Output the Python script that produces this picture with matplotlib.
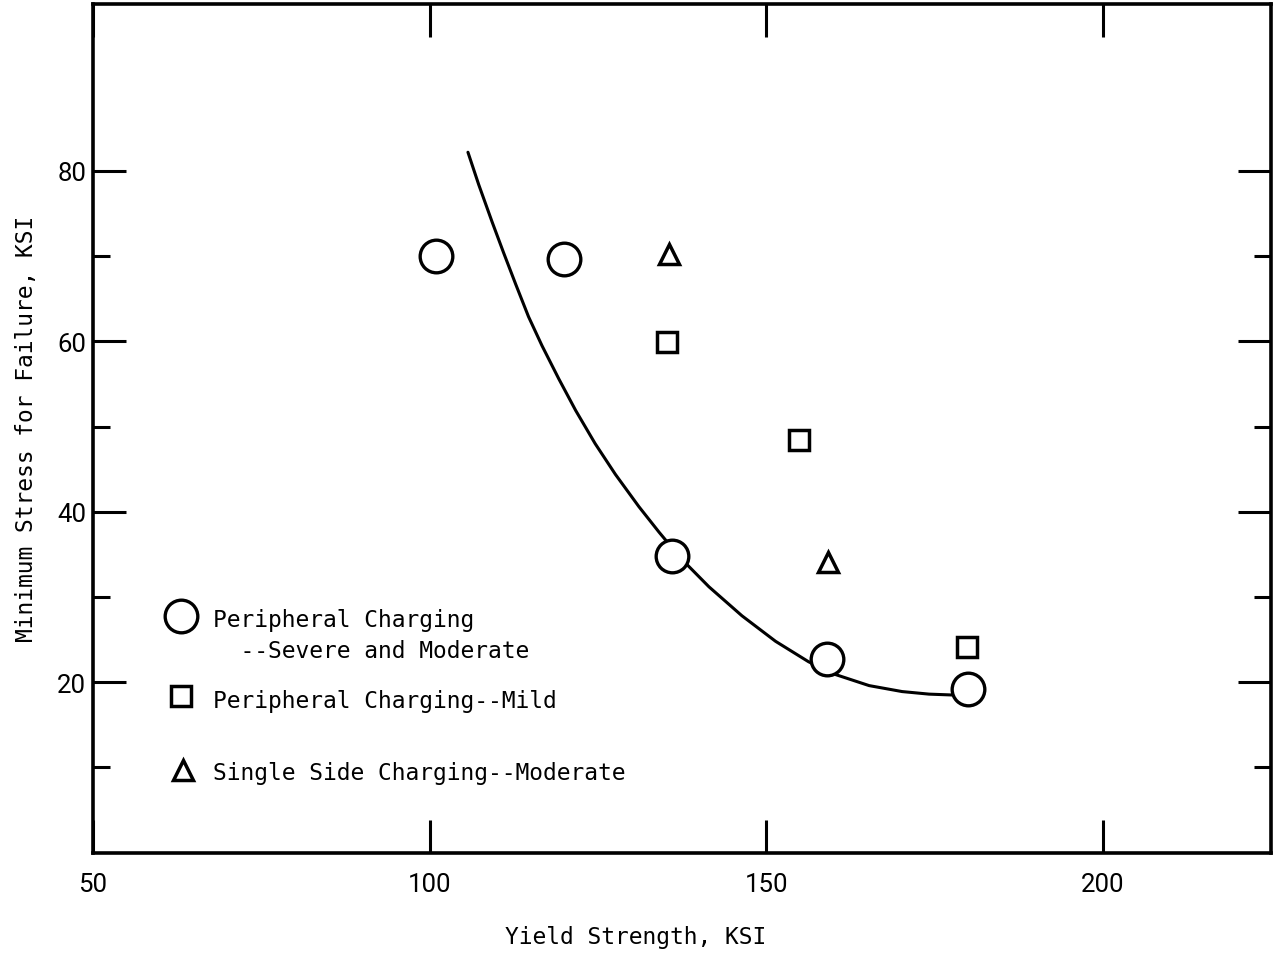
import matplotlib
matplotlib.use("Agg")
import matplotlib.pyplot as plt
from matplotlib import font_manager

# data
severe_x = [101, 120, 136, 159, 180]
severe_y = [70.0, 69.7, 34.8, 22.7, 19.2]

mild_x = [135.3, 154.9, 179.9]
mild_y = [59.9, 48.4, 24.1]

single_x = [135.6, 159.2]
single_y = [70.3, 34.1]

# hand-drawn fit curve
curve_x = [105.7, 107.3, 109.3, 111.0, 112.8, 114.7, 116.7, 119.2, 121.7, 124.6,
           127.6, 131.1, 134.1, 136.0, 138.0, 141.5, 146.4, 151.4, 156.3, 160.3,
           165.3, 170.2, 174.2, 177.6]
curve_y = [82.2, 78.4, 74.0, 70.4, 66.7, 62.9, 59.5, 55.6, 51.9, 48.0,
           44.4, 40.6, 37.6, 35.8, 34.0, 31.2, 27.8, 24.8, 22.4, 20.9,
           19.6, 18.9, 18.6, 18.5]

x_major = [50, 100, 150, 200]
y_major = [20, 40, 60, 80]
y_minor = [10, 30, 50, 70]

mono = "DejaVu Sans Mono"
names = {f.name for f in font_manager.fontManager.ttflist}
tick_font = "Liberation Sans Narrow" if "Liberation Sans Narrow" in names else "Roboto"

fig = plt.figure(figsize=(12.76, 9.54), dpi=100)
ax = fig.add_axes([93 / 1276, 1 - 853.6 / 954, 1178 / 1276, 848.6 / 954])

ax.plot(curve_x, curve_y, color="black", lw=2.2, solid_joinstyle="round", solid_capstyle="round")
ax.plot(severe_x, severe_y, "o", ms=23.5, mfc="white", mec="black", mew=2.4)
ax.plot(mild_x, mild_y, "s", ms=14.5, mfc="white", mec="black", mew=2.5)
ax.plot(single_x, single_y, "^", ms=15, mfc="white", mec="black", mew=2.5)

ax.set_xlim(50, 225)
ax.set_ylim(0, 99.6)

ax.set_xticks(x_major)
ax.set_yticks(y_major)
ax.set_yticks(y_minor, minor=True)
ax.tick_params(which="both", direction="in", top=True, right=True, width=2.2, color="black")
ax.tick_params(which="major", length=24)
ax.tick_params(which="minor", length=12)
ax.tick_params(axis="x", pad=14)
ax.tick_params(axis="y", pad=5)
for lab in ax.get_xticklabels() + ax.get_yticklabels():
    lab.set_fontfamily(tick_font)
    lab.set_fontsize(18.5)

for s in ax.spines.values():
    s.set_linewidth(2.6)

ax.set_xlabel("Yield Strength, KSI", family=mono, fontsize=16.5, labelpad=22)
ax.xaxis.set_label_coords(0.461, -0.085)
ax.set_ylabel("Minimum Stress for Failure, KSI", family=mono, fontsize=16.5, labelpad=14)

# legend drawn by hand, as in the original
tr = ax.transAxes
ax.plot([0.0747], [0.279], "o", ms=23.5, mfc="white", mec="black", mew=2.4, transform=tr)
ax.plot([0.0747], [0.1846], "s", ms=14.5, mfc="white", mec="black", mew=2.5, transform=tr)
ax.plot([0.0764], [0.0974], "^", ms=15, mfc="white", mec="black", mew=2.5, transform=tr)
ax.text(0.1019, 0.2667, "Peripheral Charging", family=mono, fontsize=16.5, transform=tr, va="baseline")
ax.text(0.1019, 0.2301, "  --Severe and Moderate", family=mono, fontsize=16.5, transform=tr, va="baseline")
ax.text(0.1019, 0.1712, "Peripheral Charging--Mild", family=mono, fontsize=16.5, transform=tr, va="baseline")
ax.text(0.1019, 0.0867, "Single Side Charging--Moderate", family=mono, fontsize=16.5, transform=tr, va="baseline")

fig.savefig("out.png", dpi=100)
